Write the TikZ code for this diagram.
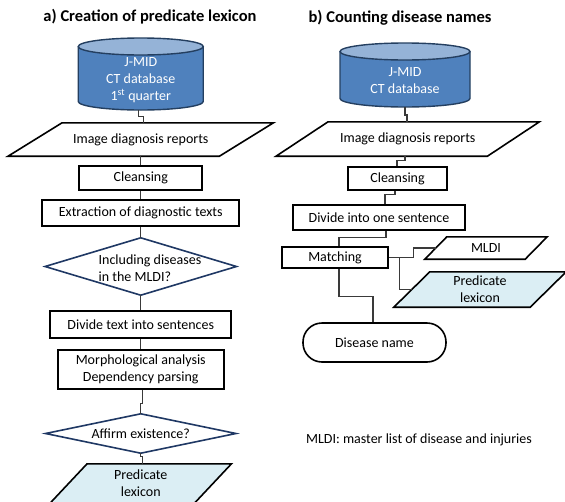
\documentclass[tikz,border=0pt]{standalone}
\usepackage{fontspec}
\setmainfont{Carlito}
\usetikzlibrary{calc,backgrounds}

\definecolor{dbbody}{HTML}{4F81BD}
\definecolor{dbtop}{HTML}{95B3D7}
\definecolor{dbedge}{HTML}{243F60}
\definecolor{lexblue}{HTML}{DBEEF4}
\definecolor{decedge}{HTML}{1F3864}
\definecolor{connedge}{HTML}{3A3A3A}

\tikzset{
  txt/.style={font=\fontsize{14}{17}\selectfont, align=center, inner sep=0pt},
  heading/.style={font=\bfseries\fontsize{16.5}{20}\selectfont, inner sep=0pt},
  procbox/.style={txt, draw=black, line width=1.6pt, fill=white},
  ioframe/.style={draw=black, line width=1.6pt, fill=white},
  lexframe/.style={draw=black, line width=1.6pt, fill=lexblue},
  decframe/.style={draw=decedge, line width=1.6pt, fill=white},
  terminal/.style={txt, draw=black, line width=1.6pt, rounded corners=19pt, fill=white},
  dbtext/.style={txt, text=white},
  dbline/.style={draw=dbedge, line width=1.4pt},
  conn/.style={draw=connedge, line width=1.1pt},
}

% outline of a slanted input/output shape around a text node
\newcommand\slantframe[3]{%
  \path[#3] ($(#1.north west)+(#2/2,0)$) -- ($(#1.north east)+(#2/2,0)$)
    -- ($(#1.south east)-(#2/2,0)$) -- ($(#1.south west)-(#2/2,0)$) -- cycle;}
% outline of a decision diamond around a frame node
\newcommand\diamondframe[2]{%
  \path[#2] (#1.west) -- (#1.north) -- (#1.east) -- (#1.south) -- cycle;}
% a database drum: centre x, top ellipse y, bottom ellipse y, x radius
\newcommand\database[4]{%
  \fill[dbbody] (#1-#4,#2) -- (#1-#4,#3)
    arc[start angle=180, end angle=360, x radius=#4 pt, y radius=8.5pt]
    -- (#1+#4,#2) -- cycle;
  \path[dbline] (#1-#4,#2) -- (#1-#4,#3)
    arc[start angle=180, end angle=360, x radius=#4 pt, y radius=8.5pt]
    -- (#1+#4,#2);
  \path[dbline, fill=dbtop] (#1,#2) ellipse[x radius=#4 pt, y radius=8.5pt];}

\begin{document}
\begin{tikzpicture}[x=1pt, y=-1pt]
\useasboundingbox (0,0) rectangle (565,501);
\clip (0,0) rectangle (565,501);

% ---------------- a) Creation of predicate lexicon ----------------
\node[heading] (ta) at (150,17) {a) Creation of predicate lexicon};

\database{140.75}{46.5}{101.5}{62.5}
\node[dbtext] (db1) at (140.75,80) {J-MID\\CT database\\1\textsuperscript{st} quarter};
\coordinate (db1b) at (140.75,110);

\node[txt, minimum width=211pt, minimum height=33pt] (rep1) at (140.75,139.5) {Image diagnosis reports};
\node[procbox, minimum width=123pt, minimum height=24pt] (cl1) at (140.75,178) {Cleansing};
\node[procbox, minimum width=197pt, minimum height=26pt] (ex1) at (140.75,213) {Extraction of diagnostic texts};
\node[minimum width=191pt, minimum height=57pt, inner sep=0pt] (d1) at (140.75,266.5) {};
\node[txt, align=left] (d1t) at (150,268) {Including diseases\\in the MLDI?};
\node[procbox, minimum width=181pt, minimum height=27pt] (dv1) at (140.75,324.5) {Divide text into sentences};
\node[procbox, minimum width=166pt, minimum height=39pt] (mo1) at (140.75,369.5) {Morphological analysis\\Dependency parsing};
\node[txt, minimum width=190pt, minimum height=39pt] (d2) at (140.75,433.5) {Affirm existence?};
\node[txt, minimum width=144pt, minimum height=39pt] (lex1) at (140.75,483.5) {Predicate\\lexicon};

% ---------------- b) Counting disease names ----------------
\node[heading] (tb) at (400,18) {b) Counting disease names};

\database{405}{51.5}{98.5}{65}
\node[dbtext] (db2) at (405,80.5) {J-MID\\CT database};
\coordinate (db2b) at (405,107);

\node[txt, minimum width=211pt, minimum height=34pt] (rep2) at (407.75,139) {Image diagnosis reports};
\node[procbox, minimum width=99pt, minimum height=23pt] (cl2) at (397.5,178.5) {Cleansing};
\node[procbox, minimum width=172pt, minimum height=25pt] (dv2) at (379,217.5) {Divide into one sentence};
\node[procbox, minimum width=106pt, minimum height=21pt] (ma2) at (335,257.5) {Matching};
\node[txt, minimum width=100pt, minimum height=22pt] (mldi) at (486,248) {MLDI};
\node[txt, minimum width=136pt, minimum height=35pt] (lex2) at (480,289.5) {Predicate\\lexicon};
\node[terminal, minimum width=143pt, minimum height=39pt] (dn) at (374.5,342.5) {Disease name};

\node[txt] (note) at (419,440) {MLDI: master list of disease and injuries};

% ---------------- outlines behind the texts ----------------
\begin{pgfonlayer}{background}
  \slantframe{rep1}{54}{ioframe}
  \slantframe{rep2}{52}{ioframe}
  \slantframe{mldi}{22}{ioframe}
  \slantframe{lex1}{37}{lexframe}
  \slantframe{lex2}{36}{lexframe}
  \diamondframe{d1}{decframe}
  \diamondframe{d2}{decframe}
\end{pgfonlayer}

% ---------------- connectors, column a ----------------
\draw[conn] ([xshift=-2.5pt]db1b) -- ++(0,6.5) -| ([xshift=2.5pt]rep1.north);
\draw[conn] (rep1.south) -- (cl1.north);
\draw[conn] (cl1.south) -- (ex1.north);
\draw[conn] (ex1.south) -- (d1.north);
\draw[conn] (d1.south) -- (dv1.north);
\draw[conn] (dv1.south) -- (mo1.north);
\draw[conn] ([xshift=1.5pt]mo1.south) -- ++(0,14) -| (d2.north);
\draw[conn] (d2.south) -- ++(0,3) -| ([xshift=1.5pt]lex1.north);

% ---------------- connectors, column b ----------------
\draw[conn] (db2b) -- ++(0,8) -| ([xshift=-0.75pt]rep2.north);
\draw[conn] ([xshift=-2.75pt]rep2.south) -- ++(0,4.5) -| ([xshift=-0.5pt]cl2.north);
\draw[conn] ([xshift=-2.5pt]cl2.south) -- ++(0,3.5) -| ([xshift=6pt]dv2.north);
\draw[conn] ([xshift=7pt]dv2.south) -- ++(0,7) -| ([xshift=4pt]ma2.north);
\draw[conn] (ma2.east) -- ++(25,0) |- (mldi.west);
\draw[conn] (ma2.east) -- ++(11,0) |- (lex2.west);
\draw[conn] ([xshift=4pt]ma2.south) -- ++(0,27.5) -| ([xshift=-1.5pt]dn.north);
\end{tikzpicture}
\end{document}
